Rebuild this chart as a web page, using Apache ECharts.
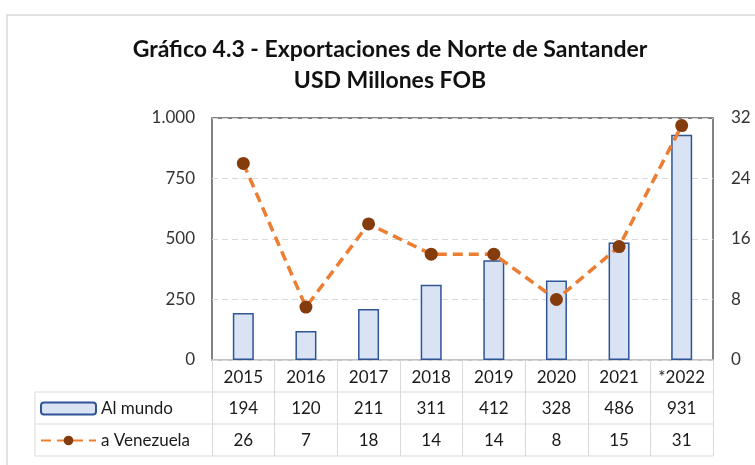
<!DOCTYPE html>
<html>
<head>
<meta charset="utf-8">
<script src="https://cdn.jsdelivr.net/npm/echarts@6/dist/echarts.min.js"></script>
<style>
  html, body { margin: 0; padding: 0; background: #fff; }
  #chart { width: 755px; height: 465px; }
</style>
</head>
<body>
<div id="chart"></div>
<script>
// data
const years = ['2015', '2016', '2017', '2018', '2019', '2020', '2021', '*2022'];
const alMundo = [194, 120, 211, 311, 412, 328, 486, 931];
const aVenezuela = [26, 7, 18, 14, 14, 8, 15, 31];

const FONT = 'Lato';
const gridLine = '#D9D9D9';

const myChart = echarts.init(document.getElementById('chart'));

const fmtThousands = v => String(v).replace(/\B(?=(\d{3})+(?!\d))/g, '.');

const tableAxis = (values, offset, margin) => ({
    type: 'category',
    data: years,
    position: 'bottom',
    offset: offset,
    axisLine: { show: false },
    axisTick: { show: false },
    axisLabel: {
        interval: 0,
        margin: margin,
        fontFamily: FONT,
        fontSize: 17,
        color: '#1a1a1a',
        formatter: (v, i) => String(values[i])
    }
});

// one legend per table row so each sits in its own cell
const rowLegend = (name, top) => ({
    orient: 'vertical',
    left: 40,
    top: top,
    padding: 0,
    itemWidth: 55,
    itemHeight: 12,
    textStyle: { fontFamily: FONT, fontSize: 17, color: '#1a1a1a' },
    data: [name]
});

const option = {
    animation: false,
    title: {
        text: 'Gráfico 4.3 - Exportaciones de Norte de Santander\nUSD Millones FOB',
        left: 385,
        top: 29,
        textAlign: 'center',
        textStyle: {
            fontFamily: FONT,
            fontWeight: 'bold',
            fontSize: 23,
            lineHeight: 31,
            color: '#111'
        }
    },
    legend: [rowLegend('Al mundo', 400), rowLegend('a Venezuela', 432)],
    grid: {
        left: 212,
        right: 42,
        top: 118,
        bottom: 105,
        show: true,
        borderColor: '#595959',
        borderWidth: 1.5
    },
    graphic: [
        // outer frame
        { type: 'rect', shape: { x: 7, y: 15, width: 800, height: 500 },
          style: { fill: 'none', stroke: '#D9D9D9', lineWidth: 1.5 }, silent: true },
        // table rules
        { type: 'line', shape: { x1: 35, y1: 392, x2: 713, y2: 392 }, style: { stroke: gridLine, lineWidth: 1 } },
        { type: 'line', shape: { x1: 35, y1: 424, x2: 713, y2: 424 }, style: { stroke: gridLine, lineWidth: 1 } },
        { type: 'line', shape: { x1: 35, y1: 456, x2: 713, y2: 456 }, style: { stroke: gridLine, lineWidth: 1 } },
        { type: 'line', shape: { x1: 35, y1: 392, x2: 35, y2: 456 }, style: { stroke: gridLine, lineWidth: 1 } }
    ],
    xAxis: [
        {
            type: 'category',
            data: years,
            position: 'bottom',
            axisLine: { lineStyle: { color: gridLine, width: 1.5 } },
            axisTick: { show: true, interval: 0, length: 96, lineStyle: { color: gridLine } },
            axisLabel: { interval: 0, margin: 9, fontFamily: FONT, fontSize: 17, color: '#1a1a1a' }
        },
        tableAxis(alMundo, 32, 8),
        tableAxis(aVenezuela, 64, 8)
    ],
    yAxis: [
        {
            type: 'value',
            min: 0,
            max: 1000,
            interval: 250,
            axisLine: { show: false },
            axisTick: { show: false },
            axisLabel: {
                margin: 17,
                fontFamily: FONT,
                fontSize: 17,
                color: '#333',
                formatter: fmtThousands
            },
            splitLine: { lineStyle: { color: gridLine, type: [6, 4], width: 1.2 } }
        },
        {
            type: 'value',
            min: 0,
            max: 32,
            interval: 8,
            axisLine: { show: false },
            axisTick: { show: false },
            axisLabel: { margin: 18, fontFamily: FONT, fontSize: 17, color: '#333' },
            splitLine: { show: false }
        }
    ],
    series: [
        {
            name: 'Al mundo',
            type: 'bar',
            data: alMundo,
            barWidth: 21,
            itemStyle: { color: '#DAE3F3', borderColor: '#2F5597', borderWidth: 1.5 }
        },
        {
            name: 'a Venezuela',
            type: 'line',
            yAxisIndex: 1,
            data: aVenezuela,
            symbol: 'circle',
            symbolSize: 13,
            itemStyle: { color: '#843C0C' },
            lineStyle: { color: '#ED7D31', width: 3.5, type: [10, 6] },
            z: 3
        }
    ]
};

myChart.setOption(option);
</script>
</body>
</html>
